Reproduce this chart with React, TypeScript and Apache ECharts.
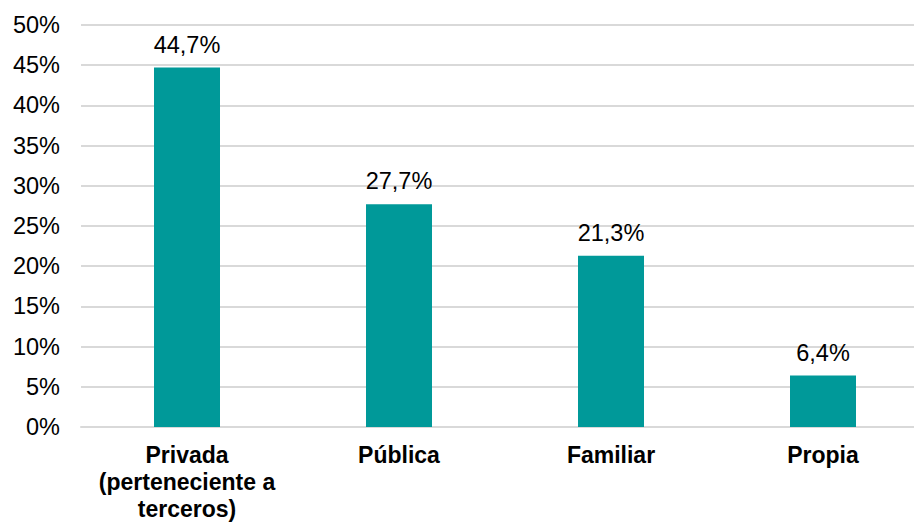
import React, { useEffect, useRef } from "react";
import * as echarts from "echarts";

const categories = ["Privada\n(perteneciente a\nterceros)", "Pública", "Familiar", "Propia"];
const values = [44.7, 27.7, 21.3, 6.4];
const yMin = 0;
const yMax = 50;
const yInterval = 5;

export default function App() {
  const ref = useRef<HTMLDivElement>(null);
  useEffect(() => {
    if (!ref.current) return;
    const chart = echarts.init(ref.current, null, { renderer: "svg" });
    chart.setOption({
      animation: false,
      backgroundColor: "#ffffff",
      grid: { left: 81, right: 1, top: 25, bottom: 88, containLabel: false },
      xAxis: {
        type: "category",
        data: categories,
        axisLine: { show: true, lineStyle: { color: "#d9d9d9", width: 2 } },
        axisTick: { show: false },
        axisLabel: {
          color: "#000000",
          fontFamily: "Liberation Sans, Arial, sans-serif",
          fontSize: 23,
          fontWeight: "bold",
          lineHeight: 27,
          margin: 14,
          interval: 0,
        },
      },
      yAxis: {
        type: "value",
        min: yMin,
        max: yMax,
        interval: yInterval,
        axisLine: { show: false },
        axisTick: { show: false },
        splitLine: { lineStyle: { color: "#d9d9d9", width: 2 } },
        axisLabel: {
          formatter: "{value}%",
          color: "#000000",
          fontFamily: "Liberation Sans, Arial, sans-serif",
          fontSize: 23.5,
          margin: 21,
        },
      },
      series: [
        {
          type: "bar",
          data: values,
          barWidth: 66,
          itemStyle: { color: "#009999" },
          label: {
            show: true,
            position: "top",
            distance: 11,
            color: "#000000",
            fontFamily: "Liberation Sans, Arial, sans-serif",
            fontSize: 23.5,
            formatter: (p: any) => p.value.toFixed(1).replace(".", ",") + "%",
          },
        },
      ],
    });
    return () => chart.dispose();
  }, []);
  return (
    <div style={{ position: "fixed", left: 0, top: 0, width: 914, height: 522, overflow: "hidden", background: "#fff" }}>
      <div ref={ref} style={{ width: 930, height: 522 }} />
    </div>
  );
}
